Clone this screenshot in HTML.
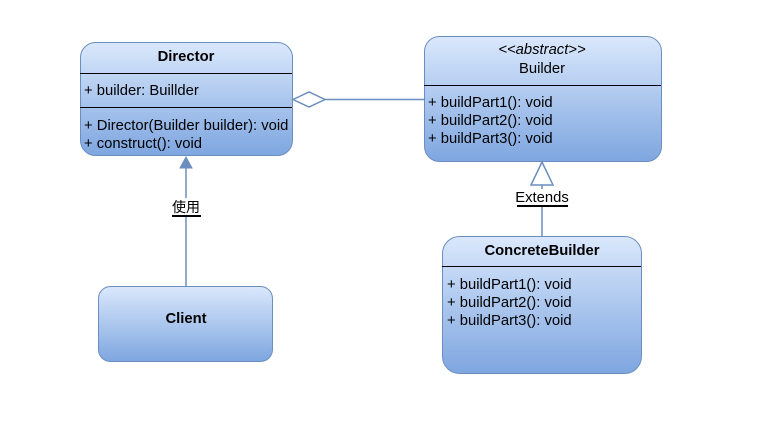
<!DOCTYPE html>
<html><head><meta charset="utf-8"><style>
html,body{margin:0;padding:0;background:#fff;}
svg{display:block;}
text{font-family:"Liberation Sans","Noto Sans CJK SC",sans-serif;font-size:14.8px;fill:#000;}
.b{font-weight:bold;}
</style></head><body>
<svg width="772" height="438" viewBox="0 0 772 438" xmlns="http://www.w3.org/2000/svg">
<defs>
<linearGradient id="g" x1="0" y1="0" x2="0" y2="1">
<stop offset="0" stop-color="#dae8fc"/><stop offset="1" stop-color="#7ea6e0"/>
</linearGradient>
</defs>
<!-- Director -->
<rect x="80.5" y="42.5" width="212" height="113" rx="15" fill="url(#g)" stroke="#6c8ebf"/>
<line x1="80" y1="73.5" x2="292" y2="73.5" stroke="#000"/>
<line x1="80" y1="107.5" x2="292" y2="107.5" stroke="#000"/>
<text x="186" y="61" text-anchor="middle" class="b">Director</text>
<text x="84" y="95">+ builder: Buillder</text>
<text x="84" y="130">+ Director(Builder builder): void</text>
<text x="84" y="148">+ construct(): void</text>
<!-- Builder -->
<rect x="424.5" y="36.5" width="237" height="125" rx="15" fill="url(#g)" stroke="#6c8ebf"/>
<line x1="424" y1="85.5" x2="661" y2="85.5" stroke="#000"/>
<text x="542" y="54" text-anchor="middle" font-style="italic">&lt;&lt;abstract&gt;&gt;</text>
<text x="542" y="73" text-anchor="middle">Builder</text>
<text x="428" y="107">+ buildPart1(): void</text>
<text x="428" y="125">+ buildPart2(): void</text>
<text x="428" y="143">+ buildPart3(): void</text>
<!-- aggregation -->
<line x1="325" y1="99.5" x2="424" y2="99.5" stroke="#6c8ebf" stroke-width="1.5"/>
<polygon points="293,99.5 309,92 325,99.5 309,107" fill="#fff" stroke="#6c8ebf" stroke-width="1.5"/>
<!-- Client -->
<rect x="98.5" y="286.5" width="174" height="75" rx="12" fill="url(#g)" stroke="#6c8ebf"/>
<text x="186" y="323" text-anchor="middle" class="b">Client</text>
<line x1="186" y1="286" x2="186" y2="166" stroke="#6c8ebf" stroke-width="1.5"/>
<polygon points="186,157 180,168 192,168" fill="#6c8ebf" stroke="#6c8ebf"/>
<rect x="172" y="198" width="29" height="17" fill="#fff"/>
<text x="186" y="212" text-anchor="middle" style="font-size:14px">使用</text>
<line x1="172" y1="216" x2="201" y2="216" stroke="#000" stroke-width="2"/>
<!-- ConcreteBuilder -->
<rect x="442.5" y="236.5" width="199" height="137" rx="17" fill="url(#g)" stroke="#6c8ebf"/>
<line x1="442" y1="266.5" x2="641" y2="266.5" stroke="#000"/>
<text x="542" y="255" text-anchor="middle" class="b">ConcreteBuilder</text>
<text x="447" y="289">+ buildPart1(): void</text>
<text x="447" y="307">+ buildPart2(): void</text>
<text x="447" y="325">+ buildPart3(): void</text>
<line x1="542" y1="236" x2="542" y2="185" stroke="#6c8ebf" stroke-width="1.5"/>
<polygon points="542,162 531,185 553,185" fill="#fff" stroke="#6c8ebf" stroke-width="1.5"/>
<rect x="517" y="189" width="51" height="16" fill="#fff"/>
<text x="542" y="202" text-anchor="middle">Extends</text>
<line x1="517" y1="206" x2="568" y2="206" stroke="#000" stroke-width="2"/>
</svg>
</body></html>
